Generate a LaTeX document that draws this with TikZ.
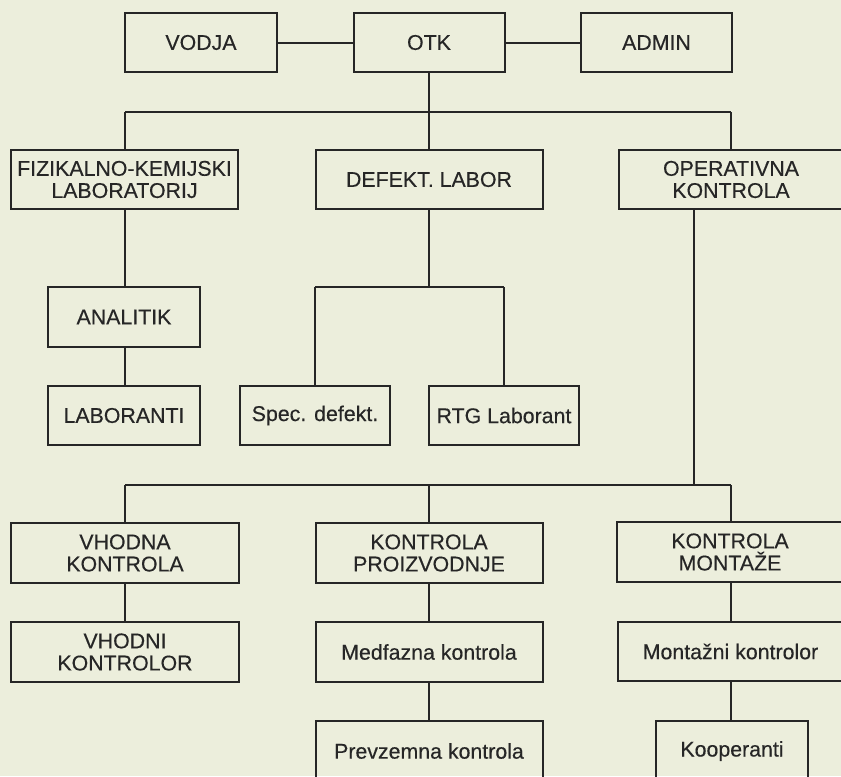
\documentclass[tikz,border=0pt]{standalone}
\usepackage{fontspec}
\setmainfont{Liberation Sans}
\newfontfamily\chartfont{Liberation Sans}[FakeBold=0.35]
\definecolor{paper}{HTML}{ECEEDC}
\definecolor{ink}{HTML}{262626}
\begin{document}
\begin{tikzpicture}[x=0.75pt,y=-0.75pt,
  box/.style={draw=ink, line width=1.5pt, rectangle, inner sep=0pt, align=center,
    text=ink, font=\chartfont\fontsize{16}{16.6}\selectfont, minimum height=59*0.75pt},
  link/.style={draw=ink, line width=1.5pt}]
\useasboundingbox (0,0) rectangle (841,776);
\fill[paper] (0,0) rectangle (841,776);
\clip (0,0) rectangle (841,776);
% top row
\node[box, minimum width=152*0.75pt] (vodja) at (201,42.5) {VODJA};
\node[box, minimum width=151*0.75pt] (otk) at (429,42.5) {OTK};
\node[box, minimum width=151*0.75pt] (admin) at (656.5,42.5) {ADMIN};
% second row
\node[box, minimum width=227*0.75pt] (fiz) at (124.5,179.5) {FIZIKALNO-KEMIJSKI\\LABORATORIJ};
\node[box, minimum width=227*0.75pt] (defekt) at (429,179.5) {DEFEKT. LABOR};
\node[box, minimum width=224*0.75pt] (oper) at (731,179.5) {OPERATIVNA\\KONTROLA};
% lab branch
\node[box, minimum width=152*0.75pt, minimum height=60*0.75pt] (analitik) at (124,317) {ANALITIK};
\node[box, minimum width=152*0.75pt] (laboranti) at (124,415.5) {LABORANTI};
\node[box, minimum width=150*0.75pt] (spec) at (315,415.5) {Spec. defekt.};
\node[box, minimum width=150*0.75pt] (rtg) at (504,415.5) {RTG Laborant};
% control row
\node[box, minimum width=228*0.75pt, minimum height=60*0.75pt] (vhodna) at (125,553) {VHODNA\\KONTROLA};
\node[box, minimum width=227*0.75pt, minimum height=60*0.75pt] (kproiz) at (429,553) {KONTROLA\\PROIZVODNJE};
\node[box, minimum width=226*0.75pt, minimum height=60*0.75pt] (kmont) at (730,552) {KONTROLA\\MONTAŽE};
\node[box, minimum width=228*0.75pt, minimum height=60*0.75pt] (vhodni) at (125,652) {VHODNI\\KONTROLOR};
\node[box, minimum width=227*0.75pt, minimum height=60*0.75pt] (medf) at (429,652) {Medfazna kontrola};
\node[box, minimum width=225*0.75pt] (montk) at (730.5,651.5) {Montažni kontrolor};
\node[box, minimum width=227*0.75pt, minimum height=60*0.75pt] (prevz) at (429,751) {Prevzemna kontrola};
\node[box, minimum width=152*0.75pt, minimum height=60*0.75pt] (koop) at (732,751) {Kooperanti};
% junction coordinates
\coordinate (j1) at (429,112);
\coordinate (j1l) at (125,112);
\coordinate (j1r) at (731,112);
\coordinate (j2) at (429,287);
\coordinate (j2l) at (315,287);
\coordinate (j2r) at (504,287);
\coordinate (opb) at (694,209);
\coordinate (j3) at (694,485);
\coordinate (j3l) at (125,485);
\coordinate (j3r) at (731,485);
% connectors
\draw[link] (vodja.east) -- (otk.west);
\draw[link] (otk.east) -- (admin.west);
\draw[link] (otk.south) -- (j1);
\draw[link] (j1l) -- (j1r);
\draw[link] (j1l) -- (fiz.north -| j1l);
\draw[link] (j1) -- (defekt.north);
\draw[link] (j1r) -- (oper.north -| j1r);
\draw[link] (fiz.south -| j1l) -- (analitik.north -| j1l);
\draw[link] (analitik.south -| j1l) -- (laboranti.north -| j1l);
\draw[link] (defekt.south) -- (j2);
\draw[link] (j2l) -- (j2r);
\draw[link] (j2l) -- (spec.north);
\draw[link] (j2r) -- (rtg.north);
\draw[link] (opb) -- (j3);
\draw[link] (j3l) -- (j3r);
\draw[link] (j3l) -- (vhodna.north -| j3l);
\draw[link] (j3 -| kproiz.north) -- (kproiz.north);
\draw[link] (j3r) -- (kmont.north -| j3r);
\draw[link] (vhodna.south -| j3l) -- (vhodni.north -| j3l);
\draw[link] (kproiz.south) -- (medf.north);
\draw[link] (medf.south) -- (prevz.north);
\draw[link] (kmont.south -| j3r) -- (montk.north -| j3r);
\draw[link] (montk.south -| j3r) -- (koop.north -| j3r);
\end{tikzpicture}
\end{document}
